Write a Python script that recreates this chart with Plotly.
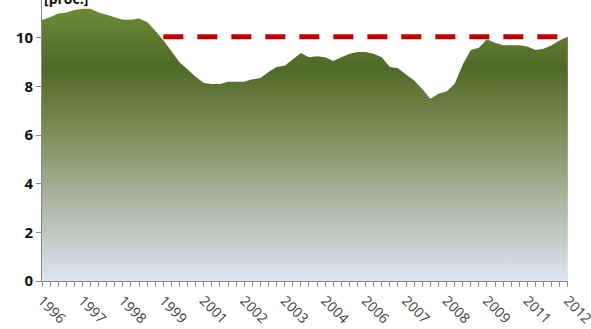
import plotly.graph_objects as go

years = list(range(1996, 2013))
quarters = [f"{y} Q{q}" for y in years for q in range(1, 5)][:66]

values = [10.74, 10.85, 11.0, 11.05, 11.15, 11.2, 11.2, 11.05, 10.95, 10.85,
          10.75, 10.75, 10.8, 10.65, 10.3, 9.9, 9.45, 9.0, 8.7, 8.4,
          8.15, 8.1, 8.1, 8.2, 8.2, 8.2, 8.3, 8.35, 8.6, 8.8,
          8.85, 9.1, 9.38, 9.2, 9.25, 9.2, 9.05, 9.2, 9.35, 9.42,
          9.42, 9.35, 9.2, 8.8, 8.75, 8.5, 8.25, 7.9, 7.5, 7.7,
          7.8, 8.1, 8.9, 9.5, 9.6, 9.95, 9.8, 9.7, 9.7, 9.7,
          9.65, 9.5, 9.55, 9.7, 9.9, 10.05]

target_start = 15
target_value = 10.05

tick_labels = [q.split(" ")[0] if i % 5 == 0 else "" for i, q in enumerate(quarters)]

x_idx = list(range(len(quarters)))

fig = go.Figure()
fig.add_trace(go.Scatter(
    x=x_idx, y=values, mode="lines", line=dict(width=0, color="#5a7a2a"),
    fill="tozeroy",
    fillgradient=dict(type="vertical", start=0, stop=11.2,
                      colorscale=[[0, "#dce5f1"], [0.3, "#aab49f"], [0.6, "#71874a"],
                                  [0.78, "#506828"], [1.0, "#6a8b36"]]),
    hoverinfo="skip", showlegend=False))
fig.add_trace(go.Scatter(
    x=x_idx[target_start:], y=[target_value] * (len(x_idx) - target_start),
    mode="lines", line=dict(color="#c00000", width=5, dash="20px,14px"),
    showlegend=False))

fig.update_layout(
    width=591, height=329,
    margin=dict(l=42, r=23, t=0, b=48, autoexpand=False),
    paper_bgcolor="white", plot_bgcolor="white",
    showlegend=False,
    xaxis=dict(range=[0, 65.02], tickmode="array", tickvals=x_idx, ticktext=tick_labels,
               tickangle=45, ticks="outside", ticklen=5, tickcolor="#8a8a8a",
               showline=True, linecolor="#8a8a8a", linewidth=1, showgrid=False,
               zeroline=False, ticklabeloverflow="allow", automargin=False,
               tickfont=dict(family="Open Sans", size=14, color="#404040")),
    yaxis=dict(range=[0, 11.56], tickvals=[0, 2, 4, 6, 8, 10], ticks="outside",
               ticklen=5, tickcolor="#8a8a8a", showline=True, linecolor="#8a8a8a",
               linewidth=1, showgrid=False, zeroline=False, automargin=False,
               tickfont=dict(family="Open Sans", size=15, color="#111111", weight="bold")),
    annotations=[dict(text="<b>[proc.]</b>", xref="paper", yref="paper", x=0, y=1.005,
                      xanchor="left", yanchor="middle", showarrow=False,
                      font=dict(family="Open Sans", size=14, color="#111111"))],
)

fig.write_html("out.html")
